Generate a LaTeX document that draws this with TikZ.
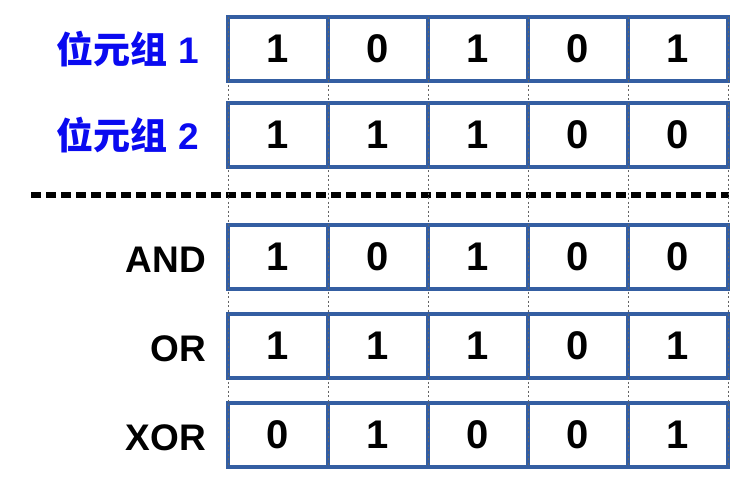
\documentclass[tikz,border=0pt]{standalone}
\usepackage{fontspec}
\setmainfont{Liberation Sans}
\newfontfamily\cjkfont{Noto Sans CJK SC}
\definecolor{cellblue}{RGB}{52,94,162}
\definecolor{labblue}{RGB}{10,10,240}
\begin{document}
\begin{tikzpicture}[x=1pt,y=-1pt,
  cell/.style={draw=cellblue,line width=4pt,fill=white,minimum width=100pt,minimum height=64pt,inner sep=0pt,font=\fontsize{40}{40}\selectfont\bfseries},
  lab/.style={anchor=east,inner sep=0pt,font=\fontsize{37}{37}\selectfont\bfseries},
  guide/.style={draw=gray!80!black,line width=0.8pt,dash pattern=on 2pt off 2.5pt}]
\useasboundingbox (0,0) rectangle (748,479);
\fill[white] (0,0) rectangle (748,479);
% dashed separator
\draw[line width=5.5pt,dash pattern=on 10pt off 5pt] (31,195) -- (729,195);
% cells
\foreach \r/\y/\vals in {1/49/{1,0,1,0,1},2/135/{1,1,1,0,0},3/257/{1,0,1,0,0},4/346/{1,1,1,0,1},5/435/{0,1,0,0,1}}{
  \foreach \v [count=\i] in \vals {
    \node[cell] (c-\r-\i) at ({178+100*\i},\y) {\v};
  }
}
% guide lines
\foreach \xx in {228,328,428,528,628,728}{
  \draw[guide] (\xx,17) -- (\xx,467);
}
% labels
\node[lab,text=labblue] (l1) at (199,49) {{\cjkfont\bfseries 位元组} 1};
\node[lab,text=labblue] (l2) at (199,135) {{\cjkfont\bfseries 位元组} 2};
\node[lab] (l3) at (206,260) {AND};
\node[lab] (l4) at (206,349) {OR};
\node[lab] (l5) at (206,438) {XOR};
\end{tikzpicture}
\end{document}
